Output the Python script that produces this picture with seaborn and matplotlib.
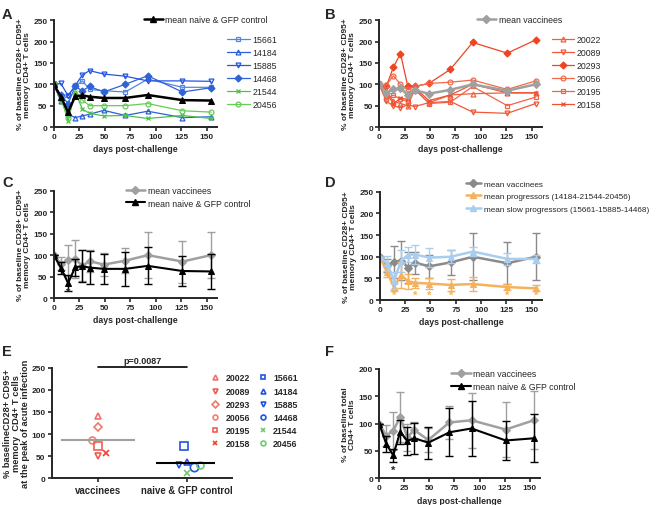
import matplotlib
matplotlib.use("Agg")
import matplotlib.pyplot as plt
import seaborn as sns
import numpy as np
import pandas as pd
from matplotlib.lines import Line2D

sns.set_theme(style="ticks")
plt.rcParams["font.family"] = ["Liberation Sans", "DejaVu Sans"]
plt.rcParams["axes.linewidth"] = 1.4

# ---- data ----
days = [0, 7, 14, 21, 28, 35, 49, 70, 92, 126, 154]

# panel A: naive & GFP control animals
a_ids = ["15661", "14184", "15885", "14468", "21544", "20456"]
a_15661 = [100, 60, 75, 95, 108, 88, 85, 82, 112, 93, 93]
a_14184 = [100, 62, 30, 22, 26, 30, 39, 27, 37, 22, 24]
a_15885 = [100, 102, 73, 97, 122, 132, 124, 119, 108, 108, 107]
a_14468 = [100, 75, 55, 95, 85, 95, 82, 100, 120, 82, 92]
a_21544 = [100, 70, 15, 82, 42, 32, 26, 27, 20, 27, 20]
a_20456 = [100, 63, 22, 78, 63, 50, 50, 50, 55, 38, 35]
naive_mean = [100, 70, 35, 72, 74, 71, 68, 68, 75, 63, 62]
naive_sd = [0, 14, 18, 20, 37, 39, 35, 39, 43, 36, 40]

# panel B: vaccinees
b_ids = ["20022", "20089", "20293", "20056", "20195", "20158"]
b_20022 = [100, 85, 60, 55, 50, 87, 57, 75, 78, 80, 80]
b_20089 = [100, 60, 50, 45, 52, 48, 57, 60, 35, 32, 55]
b_20293 = [100, 95, 140, 172, 97, 95, 102, 135, 198, 173, 204]
b_20056 = [100, 98, 120, 100, 88, 95, 102, 105, 110, 88, 108]
b_20195 = [100, 65, 75, 65, 60, 90, 55, 58, 95, 50, 70]
b_20158 = [100, 80, 55, 67, 65, 92, 62, 75, 100, 80, 80]
vacc_mean = [100, 80, 88, 91, 75, 86, 78, 87, 100, 85, 100]
vacc_sd = [0, 15, 36, 45, 36, 26, 26, 29, 54, 49, 54]

# panel D: progressors vs slow progressors
prog_mean = [100, 65, 30, 58, 43, 40, 38, 35, 37, 30, 27]
prog_sd = [0, 12, 10, 30, 17, 12, 12, 14, 17, 6, 7]
slow_mean = [100, 85, 45, 90, 105, 105, 98, 100, 112, 95, 95]
slow_sd = [0, 17, 20, 25, 17, 22, 22, 15, 10, 13, 10]
prog_star_days = [14, 35, 49, 70, 126, 154]

# panel E: peak of acute infection
e_vacc_vals = [140, 50, 117, 87, 74, 56]
e_naive_vals = [72, 37, 30, 25, 12, 30]
e_categories = ["vaccinees", "naive & GFP control"]

# panel F: total CD4+ T cells
f_vacc = [100, 78, 87, 112, 75, 88, 70, 102, 106, 89, 106]
f_vacc_sd = [0, 20, 35, 45, 25, 15, 22, 30, 50, 51, 53]
f_naive = [100, 63, 42, 85, 68, 73, 65, 84, 91, 69, 73]
f_naive_sd = [0, 15, 12, 22, 25, 28, 29, 44, 51, 36, 44]

# ---- styles ----
a_series = [a_15661, a_14184, a_15885, a_14468, a_21544, a_20456]
a_colors = ["#5585e0", "#2a5fd6", "#2255e5", "#2f62d2", "#4cc24c", "#66cc55"]
a_markers = ["s", "^", "v", "D", "x", "o"]
a_filled = [False, False, False, True, True, False]

b_series = [b_20022, b_20089, b_20293, b_20056, b_20195, b_20158]
b_colors = ["#f06040", "#f05a38", "#ee4422", "#f06a4a", "#f26448", "#ee5030"]
b_markers = ["^", "v", "D", "o", "s", "x"]
b_filled = [False, False, True, False, False, True]

GRAY = "#a0a0a0"
DGRAY = "#8a8a8a"
ORANGE = "#f6b15c"
LBLUE = "#a9cdef"
FS = 6.3
YLAB = "% of baseline CD28+ CD95+\nmemory CD4+ T cells"

fig = plt.figure(figsize=(6.64, 5.06), dpi=100)


def style_axis(ax, ymax, ystep, ylabel):
    ax.set_xlim(0, 160)
    ax.set_ylim(0, ymax)
    ax.set_xticks([0, 25, 50, 75, 100, 125, 150])
    ax.set_yticks(np.arange(0, ymax + 1, ystep))
    sns.despine(ax=ax)
    ax.tick_params(length=3, width=1.2, labelsize=6, pad=1.5)
    for lbl in ax.get_xticklabels() + ax.get_yticklabels():
        lbl.set_fontweight("bold")
    ax.set_xlabel("days post-challenge", fontsize=FS, fontweight="bold", labelpad=3)
    ax.set_ylabel(ylabel, fontsize=6.0, fontweight="bold", labelpad=2, linespacing=1.0)


def draw_line(ax, y, color, marker, filled, lw=0.9, ms=3.5):
    sns.lineplot(x=days, y=y, ax=ax, color=color, lw=lw, marker=marker,
                 markersize=ms, markeredgecolor=color,
                 markerfacecolor=color if filled else "none",
                 markeredgewidth=0.9)
    return Line2D([], [], color=color, lw=lw, marker=marker, markersize=ms,
                  markeredgecolor=color, markeredgewidth=0.9,
                  markerfacecolor=color if filled else "none")


def draw_mean(ax, y, sd, color, marker, lw=1.5, ms=4):
    if sd is not None:
        ax.errorbar(days, y, yerr=sd, fmt="none", ecolor=color, elinewidth=1.0,
                    capsize=3, capthick=1.0)
    sns.lineplot(x=days, y=y, ax=ax, color=color, lw=lw, marker=marker,
                 markersize=ms, markeredgecolor=color, markerfacecolor=color)
    return Line2D([], [], color=color, lw=lw, marker=marker, markersize=ms,
                  markeredgecolor=color, markerfacecolor=color)


def legend(ax, handles, labels, anchor, spacing=0.45, hl=2.6, fs=FS):
    lg = ax.legend(handles, labels, loc="upper left", bbox_to_anchor=anchor,
                   frameon=False, fontsize=fs, handlelength=hl, handletextpad=0.3,
                   labelspacing=spacing, borderpad=0, borderaxespad=0)
    return lg


# ---- A ----
axA = fig.add_axes([0.081, 0.747, 0.246, 0.211])
hA = [draw_line(axA, s, c, m, f) for s, c, m, f in zip(a_series, a_colors, a_markers, a_filled)]
hmA = draw_mean(axA, naive_mean, None, "black", "^", lw=1.8)
style_axis(axA, 250, 50, YLAB)
lg1 = legend(axA, [hmA], ["mean naive & GFP control"], (0.55, 1.05), hl=2.2)
axA.add_artist(lg1)
legend(axA, hA, a_ids, (1.06, 0.86))

# ---- B ----
axB = fig.add_axes([0.571, 0.747, 0.245, 0.211])
hB = [draw_line(axB, s, c, m, f) for s, c, m, f in zip(b_series, b_colors, b_markers, b_filled)]
hmB = draw_mean(axB, vacc_mean, None, GRAY, "D", lw=1.8)
style_axis(axB, 250, 50, YLAB)
lg1 = legend(axB, [hmB], ["mean vaccinees"], (0.6, 1.05), hl=2.2)
axB.add_artist(lg1)
legend(axB, hB, b_ids, (1.06, 0.86))

# ---- C ----
axC = fig.add_axes([0.081, 0.409, 0.246, 0.212])
h1 = draw_mean(axC, vacc_mean, vacc_sd, GRAY, "D", lw=1.8)
h2 = draw_mean(axC, naive_mean, naive_sd, "black", "^", lw=1.5)
axC.text(14, 3, "*", ha="center", va="bottom", fontsize=8, fontweight="bold")
style_axis(axC, 250, 50, YLAB)
legend(axC, [h1, h2], ["mean vaccinees", "mean naive & GFP control"], (0.44, 1.04), spacing=0.35, hl=2.2)

# ---- D ----
axD = fig.add_axes([0.572, 0.405, 0.244, 0.214])
h1 = draw_mean(axD, vacc_mean, vacc_sd, DGRAY, "D", lw=1.8)
h2 = draw_mean(axD, prog_mean, prog_sd, ORANGE, "^", lw=1.8)
h3 = draw_mean(axD, slow_mean, slow_sd, LBLUE, "^", lw=1.8)
for d in prog_star_days:
    axD.text(d, 0, "*", ha="center", va="bottom", fontsize=8, fontweight="bold", color=ORANGE)
style_axis(axD, 250, 50, YLAB)
legend(axD, [h1, h2, h3], ["mean vaccinees", "mean progressors (14184-21544-20456)",
                           "mean slow progressors (15661-15885-14468)"],
       (0.53, 1.11), spacing=0.6, hl=1.9, fs=5.9)

# ---- E ----
axE = fig.add_axes([0.078, 0.053, 0.271, 0.218])
e_vacc_jit = [0.0, 0.0, 0.0, -0.07, 0.0, 0.09]
e_naive_jit = [-0.03, 0.0, -0.08, 0.08, 0.0, 0.15]
e_vacc_colors = ["#f07070", "#f05a50", "#f07a6a", "#f08070", "#f06050", "#ee4030"]
e_naive_colors = ["#2255dd", "#2255dd", "#2255dd", "#2255dd", "#70c870", "#70c870"]
e_vacc_mk = ["^", "v", "D", "o", "s", "x"]
e_naive_mk = ["s", "^", "v", "o", "x", "o"]
e_vacc_ms = [5, 5, 4.5, 5, 6, 5]
e_naive_ms = [6, 5, 5, 6, 5, 5]
hE = []
for grp, (vals, jit, cols, mks, mss) in enumerate(
        [(e_vacc_vals, e_vacc_jit, e_vacc_colors, e_vacc_mk, e_vacc_ms),
         (e_naive_vals, e_naive_jit, e_naive_colors, e_naive_mk, e_naive_ms)]):
    for v, j, c, m, s in zip(vals, jit, cols, mks, mss):
        axE.plot(grp + j, v, ls="none", marker=m, ms=s, mfc="none", mec=c, mew=1.2, color=c)
        hE.append(Line2D([], [], ls="none", marker=m, ms=3.5, mfc="none", mec=c, mew=1.2, color=c))
e_means = [np.mean(e_vacc_vals), np.mean(e_naive_vals)]
axE.hlines(e_means[0], -0.42, 0.42, color=GRAY, lw=1.5)
axE.hlines(e_means[1], 0.65, 1.32, color="black", lw=1.5)
axE.plot([0, 1], [253, 253], color="black", lw=1.2, clip_on=False)
axE.text(0.5, 256, "p=0.0087", ha="center", va="bottom", fontsize=6.5, fontweight="bold")
axE.set_xlim(-0.52, 1.51)
axE.set_ylim(0, 250)
axE.set_yticks(np.arange(0, 251, 50))
axE.set_xticks([0, 1])
axE.set_xticklabels(e_categories)
sns.despine(ax=axE)
axE.tick_params(length=3, width=1.2, labelsize=6, pad=1.5)
axE.tick_params(axis="x", labelsize=6.9, pad=2)
for lbl in axE.get_xticklabels() + axE.get_yticklabels():
    lbl.set_fontweight("bold")
axE.set_ylabel("% baselineCD28+ CD95+\nmemory  CD4+ T cells\nat the peak of acute infection",
               fontsize=6.7, fontweight="bold", labelpad=1, linespacing=1.0)
lgE = axE.legend(hE, b_ids + a_ids, ncol=2, loc="upper left", bbox_to_anchor=(0.88, 0.95),
                 frameon=False, fontsize=FS, handlelength=1.2, handletextpad=0.6,
                 labelspacing=0.48, columnspacing=0.8, borderpad=0, borderaxespad=0)
for t in lgE.get_texts():
    t.set_fontweight("bold")

# ---- F ----
axF = fig.add_axes([0.571, 0.053, 0.242, 0.216])
h1 = draw_mean(axF, f_vacc, f_vacc_sd, GRAY, "D", lw=1.8)
h2 = draw_mean(axF, f_naive, f_naive_sd, "black", "^", lw=1.5)
axF.text(14, 6, "*", ha="center", va="bottom", fontsize=8, fontweight="bold")
style_axis(axF, 200, 50, "% of baseline total\nCD4+ T cells")
legend(axF, [h1, h2], ["mean vaccinees", "mean naive & GFP control"], (0.45, 1.0), spacing=0.5, hl=2.2)

# panel letters
for letter, x, y in [("A", 0.003, 0.985), ("B", 0.49, 0.985), ("C", 0.003, 0.652),
                     ("D", 0.49, 0.652), ("E", 0.003, 0.318), ("F", 0.49, 0.318)]:
    fig.text(x, y, letter, fontsize=10.5, fontweight="bold", va="top", ha="left")

fig.savefig("out.png", dpi=100)
